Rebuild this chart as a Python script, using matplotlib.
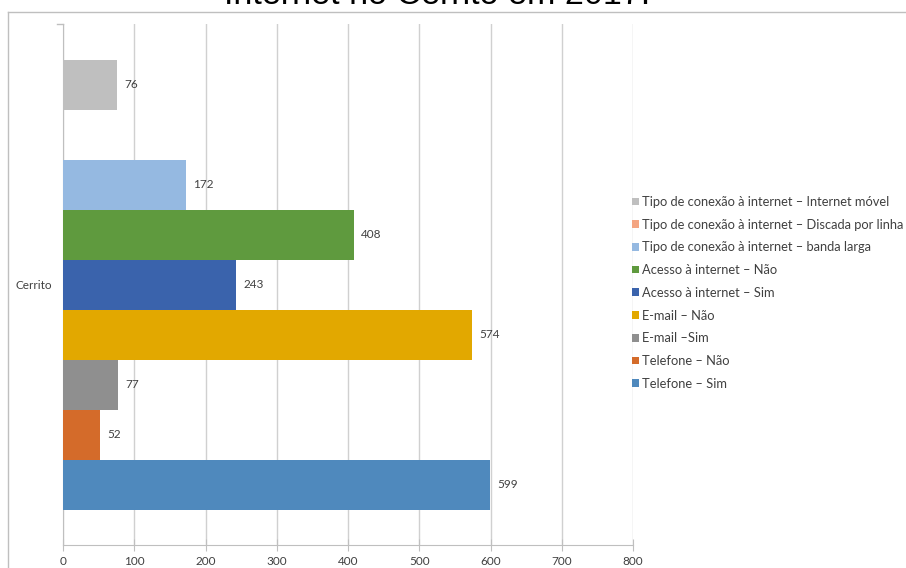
import numpy as np
import matplotlib.pyplot as plt
from matplotlib.lines import Line2D

plt.rcParams['font.family'] = ['Lato', 'DejaVu Sans']

# series, bottom to top as drawn
series = ['Telefone – Sim', 'Telefone – Não', 'E-mail –Sim', 'E-mail – Não',
          'Acesso à internet – Sim', 'Acesso à internet – Não',
          'Tipo de conexão à internet – banda larga',
          'Tipo de conexão à internet – Discada por linha',
          'Tipo de conexão à internet – Internet móvel']
valores = [599, 52, 77, 574, 243, 408, 172, np.nan, 76]
cores = ['#4F89BD', '#D46B2A', '#8F8F8F', '#E2A800', '#3A63AC', '#5F9A3E',
         '#95B9E1', '#F4A582', '#BFBFBF']
categoria = 'Cerrito'

fig = plt.figure(figsize=(9.06, 5.68), dpi=100)
ax = fig.add_axes([63/906, 1-545/568, (633-63)/906, (545-24)/568])

h = 50/521
n = len(series)
for i, (s, v, c) in enumerate(zip(series, valores, cores)):
    y = (i - (n-1)/2) * h
    ax.barh(y, 0 if np.isnan(v) else v, height=h, color=c, label=s, zorder=3)
    if not np.isnan(v):
        ax.annotate(f'{v:.0f}', (v, y), xytext=(5.5, 0), textcoords='offset points',
                    va='center', ha='left', fontsize=8.5, color='#404040', zorder=4)

ax.set_xlim(0, 800)
ax.set_ylim(-0.5, 0.5)
ax.set_xticks(range(0, 801, 100))
ax.set_yticks([0])
ax.set_yticklabels([categoria])
ax.grid(axis='x', color='#D0D0D0', linewidth=1, zorder=0)
for sp in ['top', 'right']:
    ax.spines[sp].set_visible(False)
for sp in ['left', 'bottom']:
    ax.spines[sp].set_color('#BFBFBF')
ax.tick_params(axis='x', direction='inout', length=8, color='#BFBFBF',
               labelsize=8.5, labelcolor='#404040', pad=4)
ax.tick_params(axis='y', length=0, labelsize=8.5, labelcolor='#404040', pad=8)
# small category boundary tick at the top of the left axis
ax.plot([-8, 0], [0.5, 0.5], color='#BFBFBF', lw=1, clip_on=False)

# outer frame
fig.add_artist(Line2D([8/906, 8/906], [0, 1-12/568], color='#BFBFBF', lw=1))
fig.add_artist(Line2D([8/906, 1], [1-12/568, 1-12/568], color='#BFBFBF', lw=1))

fig.text(437/906, 1-4.5/568, 'Internet no Cerrito em 2017.', ha='center', va='baseline',
         fontsize=24.5, family=['Liberation Sans', 'DejaVu Sans'], color='#000000')

handles, labels = ax.get_legend_handles_labels()
fig.legend(handles[::-1], labels[::-1], loc='upper left',
           bbox_to_anchor=(632/906, 1-196/568), frameon=False, fontsize=9.3,
           handlelength=0.55, handleheight=0.55, handletextpad=0.25,
           labelspacing=0.83, borderpad=0, borderaxespad=0, labelcolor='#404040')

fig.savefig('out.png', dpi=100)
